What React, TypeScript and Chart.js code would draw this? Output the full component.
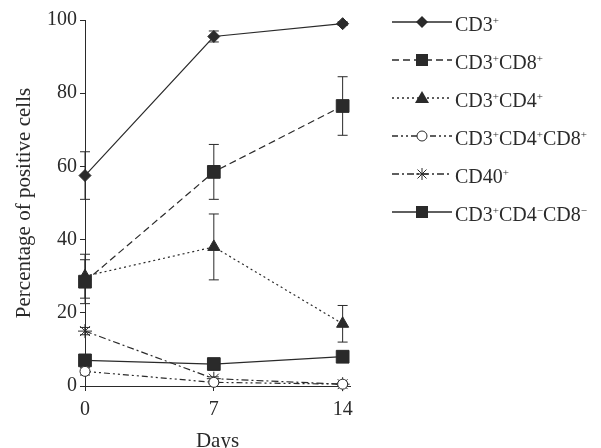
import React, { useEffect, useRef } from "react";
import { Chart, registerables } from "chart.js";
Chart.register(...registerables);

const days = [0, 7, 14];
const yTicks = [0, 20, 40, 60, 80, 100];

const cd3 = [57.5, 95.5, 99];
const cd3Err = [6.5, 1.5, 0.5];
const cd3cd8 = [28.5, 58.5, 76.5];
const cd3cd8Err = [6, 7.5, 8];
const cd3cd4 = [30, 38, 17];
const cd3cd4Err = [6, 9, 5];
const cd3cd4cd8 = [4, 1, 0.5];
const cd3cd4cd8Err = [1, 0.5, 0.5];
const cd40 = [15, 2, 0.5];
const cd40Err = [1, 0.5, 0.3];
const cd3dn = [7, 6, 8];
const cd3dnErr = [1.5, 1, 1.5];

const INK = "#2a2a2a";
const FONT = "'Liberation Serif', 'Times New Roman', serif";

type Series = {
  key: string;
  label: React.ReactNode;
  data: number[];
  err: number[];
  dash: number[];
  pointStyle: string;
  radius: number;
  fill: string;
};

const sup = (t: string) => <sup style={{ fontSize: "0.55em", verticalAlign: "0.6em" }}>{t}</sup>;

const series: Series[] = [
  { key: "CD3+", label: <>CD3{sup("+")}</>, data: cd3, err: cd3Err, dash: [], pointStyle: "rectRot", radius: 6, fill: INK },
  { key: "CD3+CD8+", label: <>CD3{sup("+")}CD8{sup("+")}</>, data: cd3cd8, err: cd3cd8Err, dash: [7, 4], pointStyle: "rect", radius: 9, fill: INK },
  { key: "CD3+CD4+", label: <>CD3{sup("+")}CD4{sup("+")}</>, data: cd3cd4, err: cd3cd4Err, dash: [2, 3], pointStyle: "triangle", radius: 7, fill: INK },
  { key: "CD3+CD4+CD8+", label: <>CD3{sup("+")}CD4{sup("+")}CD8{sup("+")}</>, data: cd3cd4cd8, err: cd3cd4cd8Err, dash: [6, 3, 2, 3, 2, 3], pointStyle: "circle", radius: 5, fill: "#ffffff" },
  { key: "CD40+", label: <>CD40{sup("+")}</>, data: cd40, err: cd40Err, dash: [7, 3, 2, 3], pointStyle: "star", radius: 7, fill: INK },
  { key: "CD3+CD4-CD8-", label: <>CD3{sup("+")}CD4{sup("−")}CD8{sup("−")}</>, data: cd3dn, err: cd3dnErr, dash: [], pointStyle: "rect", radius: 9, fill: INK },
];

const errorBars = {
  id: "errorBars",
  beforeDatasetsDraw(chart: any) {
    const ctx = chart.ctx;
    const xs = chart.scales.x;
    const ys = chart.scales.y;
    ctx.save();
    ctx.strokeStyle = INK;
    ctx.lineWidth = 1;
    ctx.setLineDash([]);
    series.forEach((s) => {
      s.data.forEach((v, i) => {
        const e = s.err[i];
        if (!e) return;
        const x = xs.getPixelForValue(days[i]);
        const y1 = ys.getPixelForValue(v + e);
        const y2 = ys.getPixelForValue(Math.max(0, v - e));
        ctx.beginPath();
        ctx.moveTo(x, y1);
        ctx.lineTo(x, y2);
        ctx.moveTo(x - 5, y1);
        ctx.lineTo(x + 5, y1);
        ctx.moveTo(x - 5, y2);
        ctx.lineTo(x + 5, y2);
        ctx.stroke();
      });
    });
    ctx.restore();
  },
};

function Marker({ s }: { s: Series }) {
  const cx = 30, cy = 10;
  let m: React.ReactNode = null;
  if (s.pointStyle === "rectRot") m = <polygon points={`${cx},${cy - 6} ${cx + 6},${cy} ${cx},${cy + 6} ${cx - 6},${cy}`} fill={INK} />;
  else if (s.pointStyle === "rect") m = <rect x={cx - 6} y={cy - 6} width={12} height={12} fill={INK} />;
  else if (s.pointStyle === "triangle") m = <polygon points={`${cx},${cy - 7} ${cx + 7},${cy + 5} ${cx - 7},${cy + 5}`} fill={INK} />;
  else if (s.pointStyle === "circle") m = <circle cx={cx} cy={cy} r={5} fill="#fff" stroke={INK} strokeWidth={1} />;
  else if (s.pointStyle === "star")
    m = (
      <g stroke={INK} strokeWidth={1}>
        <line x1={cx - 6} y1={cy} x2={cx + 6} y2={cy} />
        <line x1={cx} y1={cy - 6} x2={cx} y2={cy + 6} />
        <line x1={cx - 4.5} y1={cy - 4.5} x2={cx + 4.5} y2={cy + 4.5} />
        <line x1={cx - 4.5} y1={cy + 4.5} x2={cx + 4.5} y2={cy - 4.5} />
      </g>
    );
  return (
    <svg width={60} height={20} style={{ display: "block" }}>
      <line x1={0} y1={cy} x2={60} y2={cy} stroke={INK} strokeWidth={1.5} strokeDasharray={s.dash.length ? s.dash.join(",") : undefined} />
      {m}
    </svg>
  );
}

export default function App() {
  const ref = useRef<HTMLCanvasElement>(null);
  useEffect(() => {
    document.body.style.margin = "0";
    const chart = new Chart(ref.current!, {
      type: "line",
      data: {
        datasets: series.map((s) => ({
          label: s.key,
          data: s.data.map((v, i) => ({ x: days[i], y: v })),
          borderColor: INK,
          borderWidth: 1.2,
          borderDash: s.dash,
          pointStyle: s.pointStyle as any,
          pointRadius: s.radius,
          pointBackgroundColor: s.fill,
          pointBorderColor: INK,
          pointBorderWidth: 1,
          clip: false as any,
          tension: 0,
        })),
      },
      plugins: [errorBars],
      options: {
        animation: false,
        responsive: false,
        maintainAspectRatio: false,
        layout: { padding: { top: 20, right: 251, bottom: 0, left: 0 } },
        plugins: { legend: { display: false }, tooltip: { enabled: false } },
        scales: {
          x: {
            type: "linear",
            min: 0,
            max: 14.4,
            afterBuildTicks: (sc: any) => {
              sc.ticks = days.map((v) => ({ value: v }));
            },
            afterFit: (sc: any) => {
              sc.height = 62;
            },
            grid: { display: true, drawOnChartArea: false, drawTicks: true, tickLength: 5, color: INK },
            border: { color: INK, width: 1 },
            ticks: { color: INK, font: { family: FONT, size: 20 }, padding: 7, maxRotation: 0 },
            title: { display: true, text: "Days", color: INK, font: { family: FONT, size: 21 }, padding: { top: 0, bottom: -6 } },
          },
          y: {
            type: "linear",
            min: 0,
            max: 100,
            afterBuildTicks: (sc: any) => {
              sc.ticks = yTicks.map((v) => ({ value: v }));
            },
            afterFit: (sc: any) => {
              sc.width = 85;
            },
            grid: { display: true, drawOnChartArea: false, drawTicks: true, tickLength: 5, color: INK },
            border: { color: INK, width: 1 },
            ticks: { color: INK, font: { family: FONT, size: 20 }, padding: 3 },
            title: { display: true, text: "Percentage of positive cells", color: INK, font: { family: FONT, size: 21 }, padding: { top: 12, bottom: 0 } },
          },
        },
      },
    });
    return () => chart.destroy();
  }, []);

  return (
    <div style={{ position: "relative", width: 601, height: 448, background: "#fff", fontFamily: FONT, overflow: "hidden" }}>
      <canvas ref={ref} width={601} height={448} style={{ display: "block" }} />
      <div style={{ position: "absolute", left: 392, top: 3 }}>
        {series.map((s) => (
          <div key={s.key} style={{ display: "flex", alignItems: "center", height: 38 }}>
            <Marker s={s} />
            <span style={{ marginLeft: 3, fontSize: 20, color: INK, lineHeight: "20px", whiteSpace: "nowrap" }}>{s.label}</span>
          </div>
        ))}
      </div>
    </div>
  );
}
